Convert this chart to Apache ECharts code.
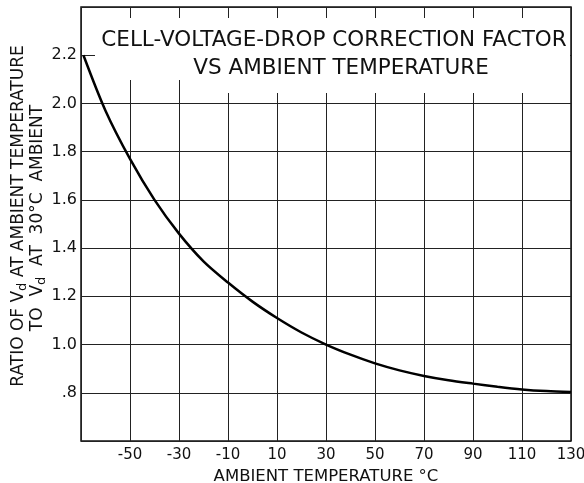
<!DOCTYPE html>
<html>
<head>
<meta charset="utf-8">
<script src="https://cdn.jsdelivr.net/npm/echarts@6/dist/echarts.min.js"></script>
<style>
  html, body { margin: 0; padding: 0; background: #fff; }
  #chart { width: 584px; height: 483px; }
</style>
</head>
<body>
<div id="chart"></div>
<script>
// temperature (deg C) and ratio Vd(T)/Vd(30C)
const temps = [-69, -60, -50, -40, -30, -20, -10, 0, 10, 20, 30, 40, 50, 60, 70, 80, 90, 100, 110, 120, 130];
const ratios = [2.2, 1.97, 1.77, 1.60, 1.46, 1.345, 1.257, 1.178, 1.11, 1.05, 1.0, 0.958, 0.922, 0.893, 0.870, 0.852, 0.838, 0.825, 0.814, 0.807, 0.803];

const xMin = -70, xMax = 130, xStep = 20;
const yMin = 0.6, yMax = 2.4, yStep = 0.2;

const titleLines = ['CELL-VOLTAGE-DROP CORRECTION FACTOR', 'VS AMBIENT TEMPERATURE'];
const xName = 'AMBIENT TEMPERATURE °C';

const font = 'DejaVu Sans';
const ink = '#111';

const chart = echarts.init(document.getElementById('chart'), null, { renderer: 'canvas' });

const option = {
  animation: false,
  backgroundColor: '#fff',
  grid: {
    left: 81, right: 13, top: 7, bottom: 42,
    outerBoundsMode: 'none',
    containLabel: false,
    show: true,
    borderColor: ink,
    borderWidth: 1.5,
    backgroundColor: 'transparent'
  },
  xAxis: {
    type: 'value',
    min: xMin, max: xMax, interval: xStep,
    axisLine: { show: false },
    axisTick: { show: false },
    splitLine: { show: true, lineStyle: { color: '#222', width: 1 } },
    axisLabel: {
      color: ink, fontFamily: font, fontSize: 15, margin: 7,
      formatter: v => (v === xMin ? '' : String(v))
    },
    name: xName,
    nameLocation: 'middle',
    nameGap: 36,
    nameTextStyle: { color: ink, fontFamily: font, fontSize: 16.5, verticalAlign: 'middle' }
  },
  yAxis: {
    type: 'value',
    min: yMin, max: yMax, interval: yStep,
    axisLine: { show: false },
    axisTick: { show: false },
    splitLine: { show: true, lineStyle: { color: '#222', width: 1 } },
    axisLabel: {
      color: ink, fontFamily: font, fontSize: 16, margin: 4,
      formatter: v => {
        const r = Math.round(v * 10) / 10;
        if (r <= yMin || r >= yMax) return '';
        if (r < 1) return r.toFixed(1).replace(/^0/, '');
        return r.toFixed(1);
      }
    }
  },
  graphic: [
    // white patch behind the title, hides the grid there
    { type: 'rect', z: 50, shape: { x: 95, y: 18, width: 475, height: 62 }, style: { fill: '#fff' } },
    { type: 'rect', z: 50, shape: { x: 185, y: 78, width: 385, height: 15 }, style: { fill: '#fff' } },
    {
      type: 'text', z: 60, x: 334, y: 40,
      style: { text: titleLines[0], font: '21.5px "' + font + '"', fill: ink, textAlign: 'center', textVerticalAlign: 'middle' }
    },
    {
      type: 'text', z: 60, x: 341, y: 68,
      style: { text: titleLines[1], font: '21.5px "' + font + '"', fill: ink, textAlign: 'center', textVerticalAlign: 'middle' }
    },
    {
      type: 'text', z: 60, x: 19, y: 216, rotation: Math.PI / 2,
      style: {
        text: 'RATIO OF V{sub|d} AT AMBIENT TEMPERATURE',
        font: '17px "' + font + '"', fill: ink, textAlign: 'center', textVerticalAlign: 'middle',
        rich: { sub: { fontSize: 13, fontFamily: font, padding: [7, 0, 0, 0] } }
      }
    },
    {
      type: 'text', z: 60, x: 38, y: 218, rotation: Math.PI / 2,
      style: {
        text: 'TO  V{sub|d}  AT  30°C  AMBIENT',
        font: '17px "' + font + '"', fill: ink, textAlign: 'center', textVerticalAlign: 'middle',
        rich: { sub: { fontSize: 13, fontFamily: font, padding: [7, 0, 0, 0] } }
      }
    }
  ],
  series: [{
    type: 'line',
    data: temps.map((t, i) => [t, ratios[i]]),
    smooth: 0.3,
    showSymbol: false,
    symbol: 'none',
    z: 70,
    lineStyle: { color: '#000', width: 2.5 }
  }]
};

chart.setOption(option);
</script>
</body>
</html>
